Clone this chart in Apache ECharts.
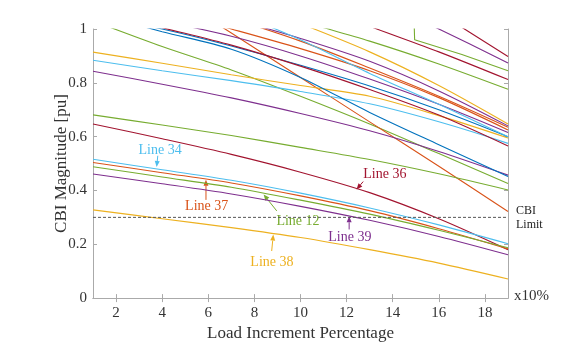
<!DOCTYPE html>
<html>
<head>
<meta charset="utf-8">
<script src="https://cdn.jsdelivr.net/npm/echarts@6.0.0/dist/echarts.min.js"></script>
<style>
  html, body { margin: 0; padding: 0; background: #fff; }
  #main { width: 586px; height: 347px; }
</style>
</head>
<body>
<div id="main"></div>
<script>
// x positions (load increment, x10%)
var xs = [1, 4, 7, 10, 13, 16, 19];
var xTicks = [2, 4, 6, 8, 10, 12, 14, 16, 18];
var limitY = 0.3;

// labelled lines
var line34 = [0.516, 0.477, 0.438, 0.390, 0.335, 0.272, 0.202];
var line37 = [0.504, 0.466, 0.428, 0.380, 0.325, 0.258, 0.183];
var line12 = [0.488, 0.450, 0.412, 0.364, 0.312, 0.252, 0.187];
var line39 = [0.461, 0.425, 0.387, 0.341, 0.289, 0.229, 0.161];
var line38 = [0.328, 0.295, 0.262, 0.225, 0.180, 0.130, 0.071];
var line36 = [0.647, 0.592, 0.534, 0.468, 0.392, 0.295, 0.180];

// other lines
var greenA = [0.681, 0.643, 0.604, 0.560, 0.515, 0.462, 0.402];
var greenB = [1.03, 0.935, 0.848, 0.750, 0.647, 0.537, 0.426];
var orangeSteep = [1.32, 1.15, 0.985, 0.820, 0.655, 0.490, 0.322];
var yellowA = [0.914, 0.873, 0.830, 0.790, 0.750, 0.678, 0.595];
var lightBlueA = [0.884, 0.845, 0.808, 0.768, 0.722, 0.655, 0.575];
var purpleA = [0.843, 0.795, 0.744, 0.686, 0.622, 0.545, 0.457];
var blueA = [1.06, 0.990, 0.925, 0.820, 0.690, 0.570, 0.452];
var blueB = [1.05, 1.00, 0.937, 0.865, 0.788, 0.700, 0.600];
var redA = [1.07, 1.005, 0.940, 0.862, 0.775, 0.680, 0.565];
var purpleB = [1.08, 1.03, 0.973, 0.900, 0.814, 0.720, 0.615];
var orangeB = [1.12, 1.07, 1.00, 0.927, 0.845, 0.745, 0.625];
var orangeC = [1.20, 1.12, 1.04, 0.955, 0.855, 0.750, 0.635];
var purpleC = [1.20, 1.12, 1.04, 0.965, 0.880, 0.770, 0.640];
var lightBlueB = [1.30, 1.20, 1.07, 0.960, 0.835, 0.720, 0.600];
var yellowB = [1.40, 1.25, 1.12, 1.02, 0.915, 0.790, 0.647];
var greenC = [1.25, 1.18, 1.11, 1.03, 0.955, 0.870, 0.776];
var redB = [1.40, 1.30, 1.20, 1.11, 1.01, 0.915, 0.812];
var purpleD = [1.40, 1.35, 1.30, 1.25, 1.12, 1.00, 0.874];
var redC = [1.50, 1.45, 1.40, 1.35, 1.22, 1.06, 0.898];
var kinkX = [14.8, 14.95, 17, 19];
var greenKink = [1.40, 0.960, 0.905, 0.845];

var C = {
    blue: '#0072BD', orange: '#D95319', yellow: '#EDB120', purple: '#7E2F8E',
    green: '#77AC30', lightBlue: '#4DBEEE', red: '#A2142F'
};

function pairs(xv, yv) {
    var out = [];
    for (var i = 0; i < yv.length; i++) out.push([xv[i], yv[i]]);
    return out;
}

var lines = [
    [greenB, C.green], [orangeSteep, C.orange], [yellowA, C.yellow], [lightBlueA, C.lightBlue],
    [purpleA, C.purple], [blueA, C.blue], [blueB, C.blue], [redA, C.red],
    [purpleB, C.purple], [orangeB, C.orange], [orangeC, C.orange], [purpleC, C.purple],
    [lightBlueB, C.lightBlue], [yellowB, C.yellow], [greenC, C.green], [redB, C.red],
    [purpleD, C.purple], [redC, C.red], [greenA, C.green],
    [line36, C.red], [line34, C.lightBlue], [line37, C.orange], [line12, C.green],
    [line39, C.purple], [line38, C.yellow]
];

var serif = 'Liberation Serif';
var series = [];
lines.forEach(function (l) {
    series.push({
        type: 'line', data: pairs(xs, l[0]), symbol: 'none', smooth: 0.3,
        lineStyle: { color: l[1], width: 1.1 }, silent: true
    });
});
series.push({
    type: 'line', data: pairs(kinkX, greenKink), symbol: 'none',
    lineStyle: { color: C.green, width: 1.1 }, silent: true
});
// CBI limit
series.push({
    type: 'line', data: [[xs[0], limitY], [xs[xs.length - 1], limitY]], symbol: 'none',
    lineStyle: { color: '#555', width: 1, type: [3, 2] },
    endLabel: { show: true, formatter: 'CBI\nLimit', distance: 8, fontFamily: serif, fontSize: 12, color: '#222', lineHeight: 14 }
});

var axisGray = '#aaa';
var chart = echarts.init(document.getElementById('main'));
chart.setOption({
    animation: false,
    backgroundColor: '#fff',
    grid: { left: 93, right: 78, top: 29, bottom: 46 },
    xAxis: [{
        type: 'value', min: 1, max: 19, position: 'bottom',
        axisLine: { lineStyle: { color: axisGray } },
        axisTick: { inside: true, length: 4, customValues: xTicks, lineStyle: { color: axisGray } },
        axisLabel: { customValues: xTicks, fontFamily: serif, fontSize: 15, color: '#333', margin: 7 },
        splitLine: { show: false },
        name: 'Load Increment Percentage', nameLocation: 'middle', nameGap: 24,
        nameTextStyle: { fontFamily: serif, fontSize: 17, color: '#333' }
    }, {
        type: 'value', min: 1, max: 19, position: 'top',
        axisLine: { show: true, lineStyle: { color: axisGray } },
        axisTick: { inside: true, length: 4, customValues: xTicks, lineStyle: { color: axisGray } },
        axisLabel: { show: false }, splitLine: { show: false }
    }],
    yAxis: [{
        type: 'value', min: 0, max: 1, interval: 0.2, position: 'left',
        axisLine: { show: true, lineStyle: { color: axisGray } },
        axisTick: { show: true, inside: true, length: 4, lineStyle: { color: axisGray } },
        axisLabel: { fontFamily: serif, fontSize: 15, color: '#333', margin: 6 },
        splitLine: { show: false },
        name: 'CBI Magnitude [pu]', nameLocation: 'middle', nameGap: 23, nameMoveOverlap: false,
        nameTextStyle: { fontFamily: serif, fontSize: 17, color: '#333' }
    }, {
        type: 'value', min: 0, max: 1, interval: 0.2, position: 'right',
        axisLine: { show: true, lineStyle: { color: axisGray } },
        axisTick: { show: true, inside: true, length: 4, lineStyle: { color: axisGray } },
        axisLabel: { show: false }, splitLine: { show: false }
    }],
    series: series
});

// annotations: text position, arrow tail and head in data coordinates
var notes = [
    { text: 'Line 34', color: C.lightBlue, at: [3.91, 0.549], tail: [3.81, 0.529], head: [3.76, 0.487] },
    { text: 'Line 37', color: C.orange, at: [5.93, 0.341], tail: [5.90, 0.365], head: [5.90, 0.440] },
    { text: 'Line 12', color: C.green, at: [9.89, 0.287], tail: [8.97, 0.324], head: [8.40, 0.385] },
    { text: 'Line 39', color: C.purple, at: [12.14, 0.224], tail: [12.11, 0.255], head: [12.11, 0.304] },
    { text: 'Line 38', color: C.yellow, at: [8.76, 0.132], tail: [8.75, 0.175], head: [8.82, 0.236] },
    { text: 'Line 36', color: C.red, at: [13.66, 0.460], tail: [12.72, 0.433], head: [12.43, 0.404] }
];

var graphics = [];
notes.forEach(function (n) {
    var p = chart.convertToPixel({ gridIndex: 0 }, n.at);
    var t = chart.convertToPixel({ gridIndex: 0 }, n.tail);
    var h = chart.convertToPixel({ gridIndex: 0 }, n.head);
    graphics.push({
        type: 'text', x: p[0], y: p[1],
        style: { text: n.text, fill: n.color, font: '14px ' + serif, align: 'center', verticalAlign: 'middle' }
    });
    var dx = h[0] - t[0], dy = h[1] - t[1];
    var len = Math.sqrt(dx * dx + dy * dy);
    var ux = dx / len, uy = dy / len;
    var bx = h[0] - ux * 6, by = h[1] - uy * 6;
    graphics.push({
        type: 'line', shape: { x1: t[0], y1: t[1], x2: bx, y2: by },
        style: { stroke: n.color, lineWidth: 1 }
    });
    graphics.push({
        type: 'polygon',
        shape: { points: [[h[0], h[1]], [bx - uy * 2.5, by + ux * 2.5], [bx + uy * 2.5, by - ux * 2.5]] },
        style: { fill: n.color }
    });
});

// x10% unit at the end of the x axis
var endPt = chart.convertToPixel({ gridIndex: 0 }, [19, 0]);
graphics.push({
    type: 'text', x: endPt[0] + 6, y: endPt[1] - 2,
    style: { text: 'x10%', fill: '#333', font: '15px ' + serif, align: 'left', verticalAlign: 'middle' }
});

chart.setOption({ graphic: graphics });
</script>
</body>
</html>
